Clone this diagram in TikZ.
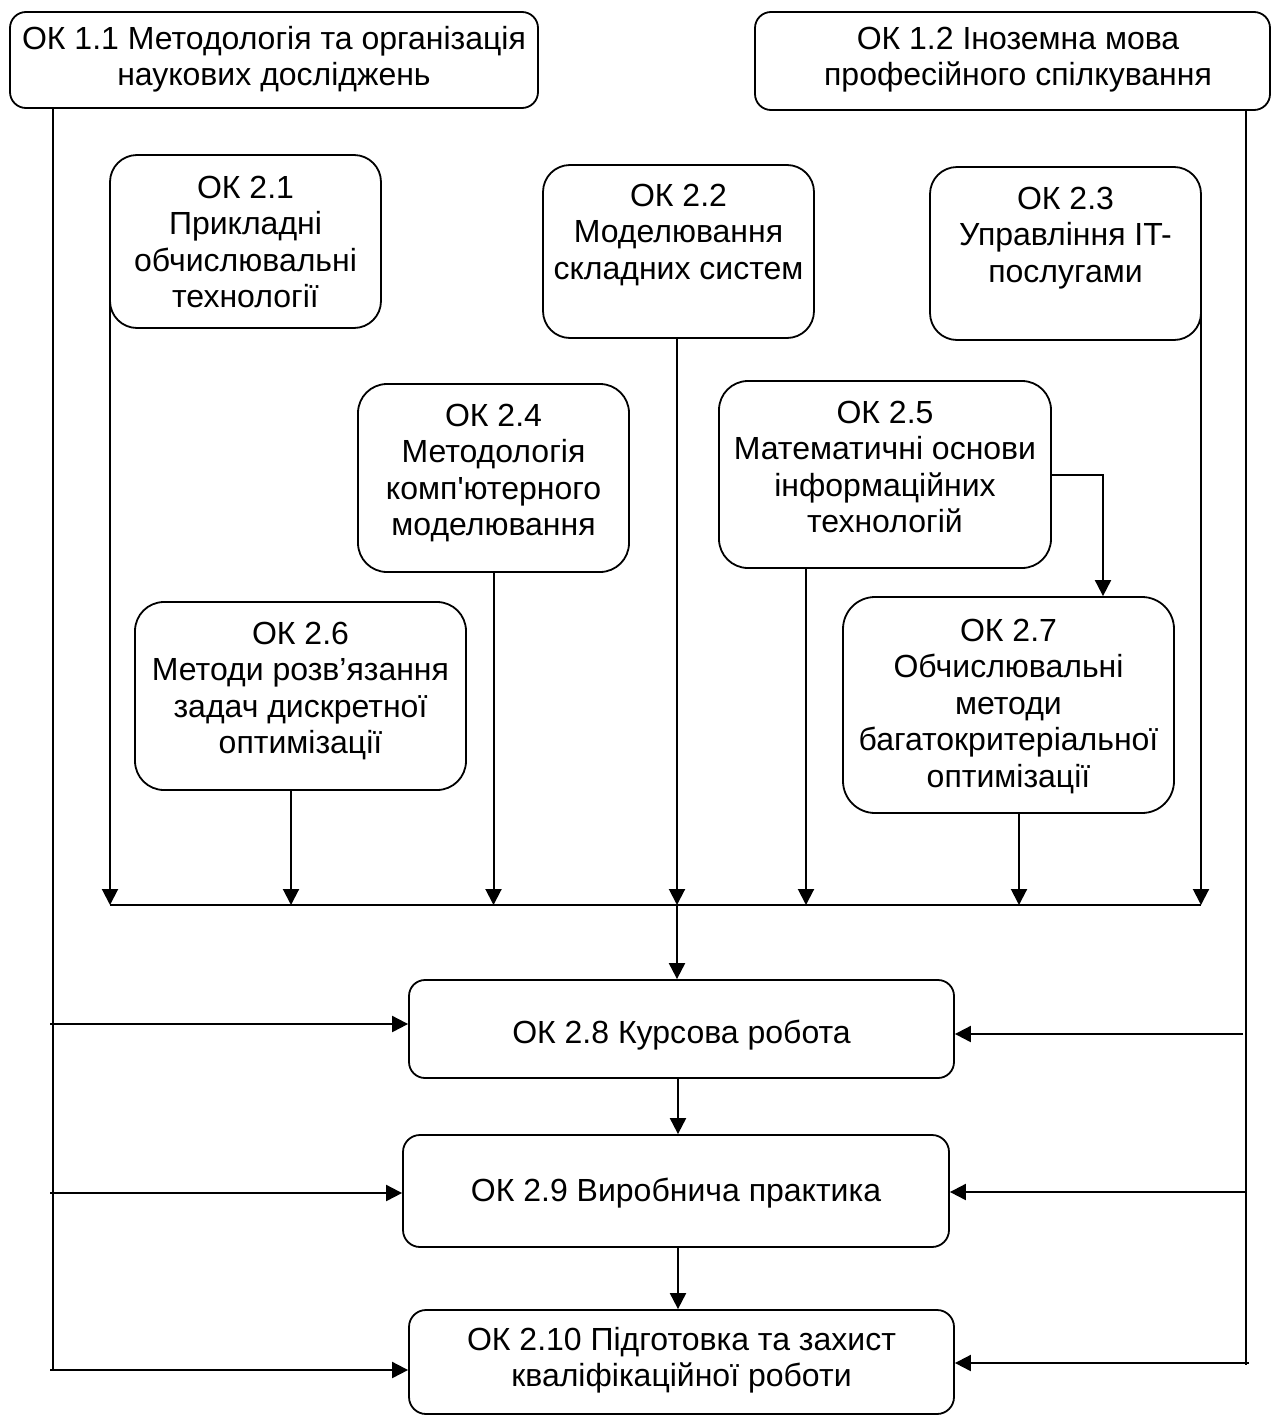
\documentclass[tikz,border=0pt]{standalone}
\usepackage{fontspec}
\setmainfont{Liberation Sans}
\usetikzlibrary{arrows.meta}
\begin{document}
\begin{tikzpicture}[x=1pt,y=-1pt,
  box/.style={draw, line width=1.8pt, inner sep=0pt},
  txt/.style={align=center, inner sep=0pt, anchor=north, font=\fontsize{32}{36.4}\selectfont},
  ln/.style={line width=2pt},
  arr/.style={line width=2pt, -{Triangle[length=16pt,width=16pt]}}]
\useasboundingbox (0,0) rectangle (1273,1416);

% boxes
\node[box, rounded corners=16pt, minimum width=528pt, minimum height=96pt] (b11) at (274,60) {};
\node[box, rounded corners=16pt, minimum width=515pt, minimum height=98pt] (b12) at (1012.5,61) {};
\node[box, rounded corners=27pt, minimum width=271pt, minimum height=173pt] (b21) at (245.5,241.5) {};
\node[box, rounded corners=27pt, minimum width=271pt, minimum height=173pt] (b22) at (678.5,251.5) {};
\node[box, rounded corners=27pt, minimum width=271pt, minimum height=173pt] (b23) at (1065.5,253.5) {};
\node[box, rounded corners=29pt, minimum width=271pt, minimum height=188pt] (b24) at (493.5,478) {};
\node[box, rounded corners=29pt, minimum width=332pt, minimum height=187pt] (b25) at (885,474.5) {};
\node[box, rounded corners=29pt, minimum width=331pt, minimum height=188pt] (b26) at (300.5,696) {};
\node[box, rounded corners=32pt, minimum width=331pt, minimum height=216pt] (b27) at (1008.5,705) {};
\node[box, rounded corners=16pt, minimum width=545pt, minimum height=98pt] (b28) at (681.5,1029) {};
\node[box, rounded corners=17pt, minimum width=546pt, minimum height=112pt] (b29) at (676,1191) {};
\node[box, rounded corners=17pt, minimum width=545pt, minimum height=104pt] (b210) at (681.5,1362) {};

% texts
\node[txt] (t11) at (274,26) {ОК 1.1 Методологія та організація\\наукових досліджень};
\node[txt] (t12) at (1018,27) {ОК 1.2 Іноземна мова\\професійного спілкування};
\node[txt] (t21) at (245.5,176) {ОК 2.1\\Прикладні\\обчислювальні\\технології};
\node[txt] (t22) at (678.5,184) {ОК 2.2\\Моделювання\\складних систем};
\node[txt] (t23) at (1065.5,187) {ОК 2.3\\Управління IT-\\послугами};
\node[txt] (t24) at (493.5,404) {ОК 2.4\\Методологія\\комп\textquotesingle ютерного\\моделювання};
\node[txt] (t25) at (885,401) {ОК 2.5\\Математичні основи\\інформаційних\\технологій};
\node[txt] (t26) at (300.5,622) {ОК 2.6\\Методи розв’язання\\задач дискретної\\оптимізації};
\node[txt] (t27) at (1008.5,619) {ОК 2.7\\Обчислювальні\\методи\\багатокритеріальної\\оптимізації};
\node[txt] (t28) at (681.5,1020) {ОК 2.8 Курсова робота};
\node[txt] (t29) at (676,1178) {ОК 2.9 Виробнича практика};
\node[txt] (t210) at (681.5,1327) {ОК 2.10 Підготовка та захист\\кваліфікаційної роботи};

% coordinates
\coordinate (lt) at (53,108);
\coordinate (lb) at (53,1370);
\coordinate (rt) at (1246,110);
\coordinate (rb) at (1246,1365);
\coordinate (l8) at (50,1024);
\coordinate (l9) at (50,1193);
\coordinate (l10) at (50,1370);
\coordinate (r8) at (1243,1034);
\coordinate (r9) at (1246,1192);
\coordinate (r10) at (1249,1363);
\coordinate (busl) at (110,905);
\coordinate (busr) at (1201,905);
\coordinate (s21) at (110,300);
\coordinate (s23) at (1201,312);
\coordinate (s26) at (291,790);
\coordinate (s22) at (677,338);
\coordinate (s25) at (806,568);
\coordinate (s27) at (1019,813);
\coordinate (k27) at (1103,0);
\coordinate (vx) at (678,0);

% trunks
\draw[ln] (lt) -- (lb);
\draw[ln] (rt) -- (rb);
\draw[arr] (l8) -- (l8 -| b28.west);
\draw[arr] (l9) -- (l9 -| b29.west);
\draw[arr] (l10) -- (l10 -| b210.west);
\draw[arr] (r8) -- (r8 -| b28.east);
\draw[arr] (r9) -- (r9 -| b29.east);
\draw[arr] (r10) -- (r10 -| b210.east);

% bus
\draw[ln] (busl) -- (busr);
\draw[arr] (s21) -- (s21 |- busl);
\draw[arr] (s23) -- (s23 |- busl);
\draw[arr] (s26) -- (s26 |- busl);
\draw[arr] (b24.south) -- (b24.south |- busl);
\draw[arr] (s22) -- (s22 |- busl);
\draw[arr] (s22 |- busl) -- (s22 |- b28.north);
\draw[arr] (s25) -- (s25 |- busl);
\draw[arr] (s27) -- (s27 |- busl);
\draw[arr] (b25.east) -| (k27 |- b27.north);

% chain
\draw[arr] (vx |- b28.south) -- (vx |- b29.north);
\draw[arr] (vx |- b29.south) -- (vx |- b210.north);
\end{tikzpicture}
\end{document}
